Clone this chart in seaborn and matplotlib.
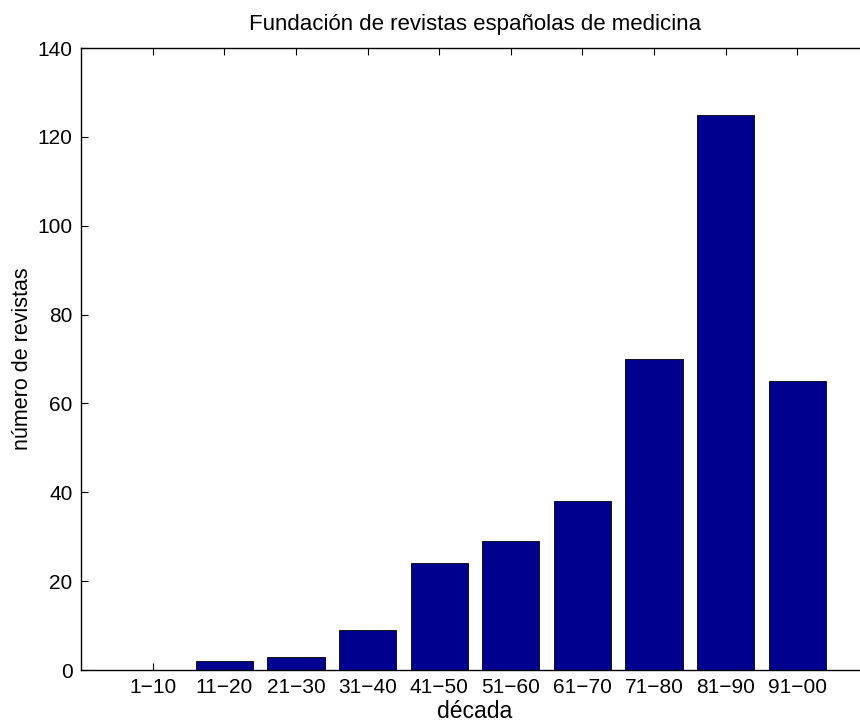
"""Bar chart: founding of Spanish medical journals by decade."""

import matplotlib
matplotlib.use("Agg")
import matplotlib.pyplot as plt
import pandas as pd
import seaborn as sns

decades = ["1\u221210", "11\u221220", "21\u221230", "31\u221240", "41\u221250",
           "51\u221260", "61\u221270", "71\u221280", "81\u221290", "91\u221200"]
journals = [0, 2, 3, 9, 24, 29, 38, 70, 125, 65]

df = pd.DataFrame({"decada": decades, "revistas": journals})

sns.set_theme(style="white")
plt.rcParams["font.family"] = ["Liberation Sans", "DejaVu Sans"]
plt.rcParams["text.color"] = "black"
plt.rcParams["axes.labelcolor"] = "black"
plt.rcParams["xtick.color"] = "black"
plt.rcParams["ytick.color"] = "black"

fig = plt.figure(figsize=(8.6, 7.27), dpi=100)
ax = fig.add_axes([81 / 860, 57 / 727, 788 / 860, 622 / 727])

sns.barplot(data=df, x="decada", y="revistas", color="#00008F", width=0.8,
            edgecolor="black", linewidth=0.6, saturation=1, ax=ax)

ax.set_xlim(-1, 10)
ax.set_ylim(0, 140)
ax.set_yticks(range(0, 141, 20))
ax.tick_params(direction="in", length=5, width=0.8, labelsize=15,
               top=True, right=False, bottom=True, left=True, pad=6)
for s in ax.spines.values():
    s.set_color("black")
    s.set_linewidth(1.0)
ax.spines["right"].set_visible(False)

ax.set_title("Fundación de revistas españolas de medicina", fontsize=16, pad=13)
ax.set_xlabel("década", fontsize=16.5, labelpad=2)
ax.set_ylabel("número de revistas", fontsize=15.5, labelpad=3)

fig.savefig("out.png", dpi=100)
